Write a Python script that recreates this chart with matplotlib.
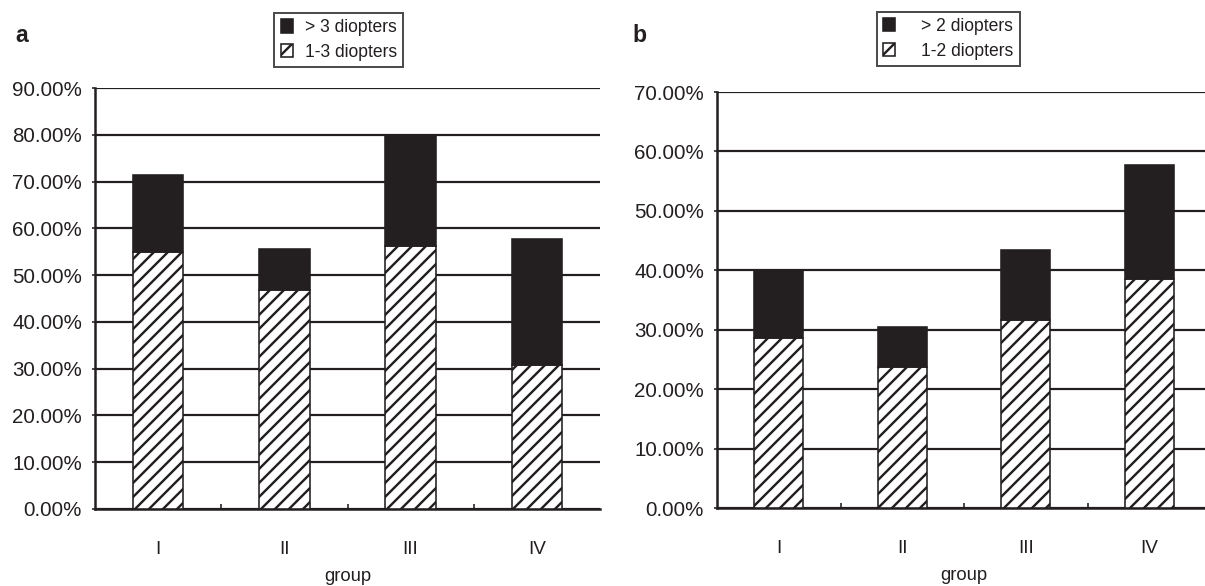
import numpy as np
import matplotlib.pyplot as plt
from matplotlib.ticker import FixedLocator, PercentFormatter

# drawn at 84 dpi so the '//' hatch has the ~7px pitch of the original
D = 84


def px(v):
    # pixels -> points at this dpi
    return v * 72.0 / D


plt.rcParams['font.family'] = ['Liberation Sans', 'DejaVu Sans']
plt.rcParams['hatch.linewidth'] = px(2.4)

groups = ['I', 'II', 'III', 'IV']

# panel a: totals and the 1-3 diopter part
a_low = [55.0, 46.8, 56.3, 30.7]
a_total = [71.4, 55.6, 80.0, 57.7]
a_labels = ['> 3 diopters', '1-3 diopters']

# panel b: totals and the 1-2 diopter part
b_low = [28.6, 23.7, 31.6, 38.5]
b_total = [40.0, 30.4, 43.4, 57.7]
b_labels = ['> 2 diopters', '1-2 diopters']

dark = '#231f20'

fig = plt.figure(figsize=(1205/D, 586/D), dpi=D)
axa = fig.add_axes([95/1205, 1-509/586, 505/1205, 421/586])
axb = fig.add_axes([717/1205, 1-508/586, 494/1205, 416/586])


def panel(ax, low, total, labels, ymax, legx, legy, textpad):
    x = np.arange(len(groups))
    high = np.array(total) - np.array(low)
    h1 = ax.bar(x, low, width=0.4, color='white', edgecolor=dark,
                hatch='//', linewidth=px(1.6), zorder=3)
    h2 = ax.bar(x, high, width=0.4, bottom=low, color=dark,
                edgecolor=dark, linewidth=px(1.6), zorder=3)
    ax.set_xlim(-0.5, 3.5)
    ax.set_ylim(0, ymax)
    ax.set_yticks(np.arange(0, ymax + 1, 10))
    ax.yaxis.set_major_formatter(PercentFormatter(decimals=2))
    ax.yaxis.grid(True, color=dark, linewidth=px(2.2))
    ax.set_axisbelow(True)
    ax.set_xticks(x)
    ax.set_xticklabels(groups)
    ax.xaxis.set_minor_locator(FixedLocator([0.5, 1.5, 2.5]))
    ax.tick_params(axis='x', which='major', length=0, pad=px(32),
                   labelsize=px(19), labelcolor=dark)
    ax.tick_params(axis='x', which='minor', direction='in', length=px(5),
                   width=px(1.6), color=dark)
    ax.tick_params(axis='y', length=px(3), width=px(1.6), labelsize=px(20.5),
                   pad=px(10), color=dark, labelcolor=dark)
    ax.set_xlabel('group', fontsize=px(18.5), labelpad=px(10), color=dark)
    for s in ['top', 'right']:
        ax.spines[s].set_visible(False)
    for s in ['left', 'bottom']:
        ax.spines[s].set_linewidth(px(2.5))
        ax.spines[s].set_color(dark)
    leg = ax.legend([h2, h1], labels, loc='lower center',
                    bbox_to_anchor=(legx, legy), fontsize=px(17.5),
                    frameon=True, fancybox=False, edgecolor=dark,
                    handlelength=0.7, handleheight=0.8,
                    handletextpad=textpad, borderpad=0.35,
                    labelspacing=0.45, borderaxespad=0)
    leg.get_frame().set_linewidth(px(2.0))
    for t in leg.get_texts():
        t.set_color(dark)


panel(axa, a_low, a_total, a_labels, 90, 0.483, 1.05, 0.7)
panel(axb, b_low, b_total, b_labels, 70, 0.468, 1.063, 1.5)

fig.text(15/1205, 1-35/586, 'a', fontsize=px(23), fontweight='bold',
         va='center', color=dark)
fig.text(632/1205, 1-35/586, 'b', fontsize=px(23), fontweight='bold',
         va='center', color=dark)

fig.savefig('out.png', dpi=D)
